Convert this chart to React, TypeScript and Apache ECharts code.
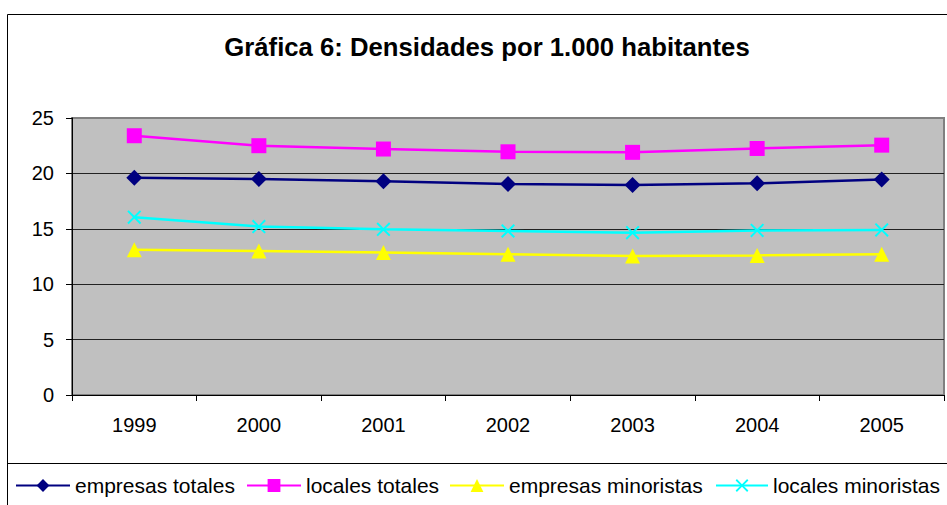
import React, { useEffect, useRef } from "react";
import * as echarts from "echarts";

const years = ["1999", "2000", "2001", "2002", "2003", "2004", "2005"];
const empresasTotales = [19.6, 19.5, 19.3, 19.05, 18.95, 19.1, 19.45];
const localesTotales = [23.4, 22.5, 22.2, 21.95, 21.9, 22.25, 22.55];
const empresasMinoristas = [13.1, 13.0, 12.85, 12.7, 12.55, 12.6, 12.7];
const localesMinoristas = [16.05, 15.2, 14.95, 14.8, 14.65, 14.85, 14.9];
const seriesNames = ["empresas totales", "locales totales", "empresas minoristas", "locales minoristas"];

const titleText = "Gráfica 6: Densidades por 1.000 habitantes";
const FONT = "'Liberation Sans', Arial, sans-serif";
const crossPath =
  "path://M0,1 L1,0 L5,4 L9,0 L10,1 L6,5 L10,9 L9,10 L5,6 L1,10 L0,9 L4,5 Z";

export default function App() {
  const ref = useRef<HTMLDivElement>(null);
  useEffect(() => {
    if (!ref.current) return;
    const chart = echarts.init(ref.current, undefined, { renderer: "svg" });
    const mk = (name: string, data: number[], color: string, symbol: string, size: number) => ({
      name,
      type: "line",
      data,
      symbol,
      symbolSize: size,
      color,
      lineStyle: { color, width: 2.5 },
      itemStyle: { color },
      z: 5,
    });
    const legendLefts = [15, 246, 449, 715];
    const legendWidths = [54, 54, 54, 52];
    chart.setOption({
      animation: false,
      backgroundColor: "#ffffff",
      textStyle: { fontFamily: FONT },
      graphic: [
        {
          type: "rect",
          shape: { x: 7.5, y: 14.5, width: 1000, height: 600 },
          style: { fill: "none", stroke: "#000", lineWidth: 1 },
          silent: true,
          z: -10,
        },
        {
          type: "rect",
          shape: { x: 7.5, y: 463.5, width: 1000, height: 100 },
          style: { fill: "none", stroke: "#000", lineWidth: 1 },
          silent: true,
          z: -10,
        },
        {
          type: "text",
          x: 487,
          y: 47,
          style: {
            text: titleText,
            font: `bold 25.7px ${FONT}`,
            fill: "#000",
            textAlign: "center",
            textVerticalAlign: "middle",
          },
        },
      ],
      grid: {
        left: 72,
        top: 118,
        right: 3,
        bottom: 110,
        show: true,
        backgroundColor: "#C0C0C0",
        borderColor: "#808080",
        borderWidth: 2,
      },
      legend: seriesNames.map((n, i) => ({
        left: legendLefts[i],
        top: 475,
        padding: 0,
        width: 300,
        itemWidth: legendWidths[i],
        itemHeight: 16,
        itemGap: 0,
        textStyle: { fontSize: 21, color: "#000", fontFamily: FONT },
        data: [n],
      })),
      xAxis: {
        type: "category",
        data: years,
        boundaryGap: true,
        axisLine: { lineStyle: { color: "#000", width: 1 } },
        axisTick: { show: true, alignWithLabel: false, length: 6, lineStyle: { color: "#000" } },
        axisLabel: { fontSize: 20, color: "#000", margin: 20, fontFamily: FONT },
        splitLine: { show: false },
      },
      yAxis: {
        type: "value",
        min: 0,
        max: 25,
        interval: 5,
        axisLine: { show: true, lineStyle: { color: "#000", width: 1 } },
        axisTick: { show: true, length: 6, lineStyle: { color: "#000" } },
        axisLabel: { fontSize: 20, color: "#000", margin: 18, fontFamily: FONT },
        splitLine: {
          show: true,
          lineStyle: {
            color: ["#000", "#222", "#222", "#222", "#222", "#808080"],
            width: 1,
          },
        },
      },
      series: [
        mk(seriesNames[0], empresasTotales, "#000080", "diamond", 16),
        mk(seriesNames[1], localesTotales, "#FF00FF", "rect", 15),
        mk(seriesNames[2], empresasMinoristas, "#FFFF00", "triangle", 15),
        mk(seriesNames[3], localesMinoristas, "#00FFFF", crossPath, 14),
      ],
    });
    return () => chart.dispose();
  }, []);
  return <div ref={ref} style={{ width: 947, height: 505, position: "absolute", left: 0, top: 0 }} />;
}
